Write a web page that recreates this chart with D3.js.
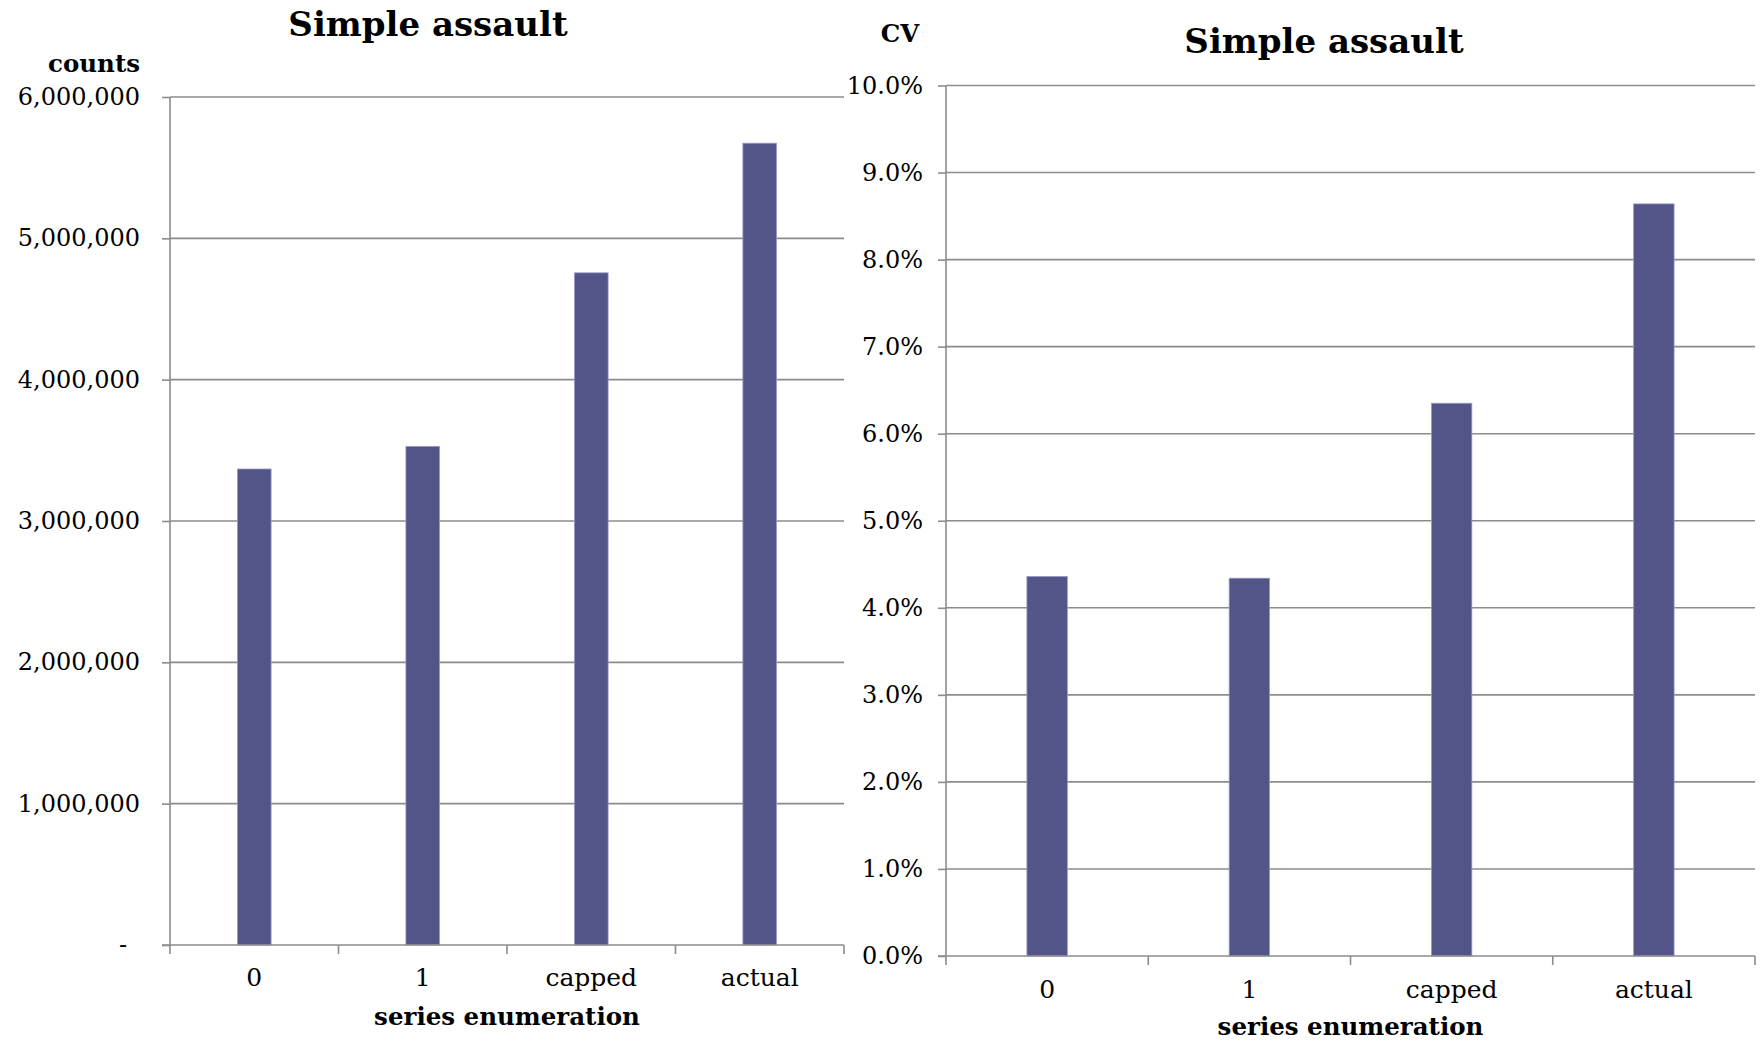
<!DOCTYPE html>
<html>
<head>
<meta charset="utf-8">
<script src="https://cdn.jsdelivr.net/npm/d3@7"></script>
<style>
  html, body { margin: 0; padding: 0; background: #fff; }
  svg { display: block; }
  text { font-family: "DejaVu Serif", "Liberation Serif", serif; fill: #000; }
</style>
</head>
<body>
<svg id="chart" width="1764" height="1040"></svg>
<script>
// Categories shared by both panels
const categories = ["0", "1", "capped", "actual"];

// Estimated simple assault counts per series enumeration
const countValues = [3368000, 3528000, 4756000, 5673000];
const countTicks = [0, 1000000, 2000000, 3000000, 4000000, 5000000, 6000000];

// Coefficient of variation per series enumeration
const cvValues = [0.0436, 0.0434, 0.0635, 0.0864];
const cvTicks = [0, 0.01, 0.02, 0.03, 0.04, 0.05, 0.06, 0.07, 0.08, 0.09, 0.10];

const barColor = "#535488";
const gridColor = "#8c8c8c";

const svg = d3.select("#chart");

function panel(opts) {
  const g = svg.append("g");
  const x = d3.scaleBand().domain(categories).range([opts.x0, opts.x1]).padding(0);
  const y = d3.scaleLinear().domain(opts.domain).range([opts.yBottom, opts.yTop]);

  // horizontal gridlines
  g.append("g").selectAll("line").data(opts.ticks.filter(t => t > 0)).join("line")
    .attr("x1", opts.x0).attr("x2", opts.x1)
    .attr("y1", d => y(d)).attr("y2", d => y(d))
    .attr("stroke", gridColor).attr("stroke-width", 1.6);

  // bars, 20% of each band, centered
  const bw = x.bandwidth() * 0.2;
  g.append("g").selectAll("rect").data(opts.values).join("rect")
    .attr("x", (d, i) => x(categories[i]) + x.bandwidth() / 2 - bw / 2)
    .attr("width", bw)
    .attr("y", d => y(d))
    .attr("height", d => y(0) - y(d))
    .attr("fill", barColor)
    .attr("stroke", "#9a9bc8").attr("stroke-width", 0.8);

  // value axis
  const yAxis = d3.axisLeft(y).tickValues(opts.ticks).tickSize(8).tickPadding(0).tickFormat(() => "");
  const ya = g.append("g").attr("transform", `translate(${opts.x0},0)`).call(yAxis);
  ya.selectAll("path, line").attr("stroke", gridColor).attr("stroke-width", 1.6);
  ya.select(".domain").attr("d", `M0,${opts.yTop}V${opts.yBottom}`);

  g.append("g").selectAll("text").data(opts.ticks).join("text")
    .attr("x", d => opts.labelX - (opts.zeroShift && d === 0 ? opts.zeroShift : 0))
    .attr("y", d => y(d))
    .attr("text-anchor", "end").attr("dominant-baseline", "central")
    .attr("font-size", 24)
    .text(opts.fmt);

  // category axis with ticks at band boundaries
  const edges = categories.map(c => x(c)).concat([opts.x1]);
  const xa = g.append("g");
  xa.append("line").attr("x1", opts.x0 - 8).attr("x2", opts.x1)
    .attr("y1", y(0)).attr("y2", y(0))
    .attr("stroke", gridColor).attr("stroke-width", 1.6);
  xa.selectAll("line.tk").data(edges).join("line").attr("class", "tk")
    .attr("x1", d => d).attr("x2", d => d)
    .attr("y1", y(0)).attr("y2", y(0) + 9)
    .attr("stroke", gridColor).attr("stroke-width", 1.6);
  xa.selectAll("text").data(categories).join("text")
    .attr("x", d => x(d) + x.bandwidth() / 2)
    .attr("y", opts.catY)
    .attr("text-anchor", "middle")
    .attr("font-size", 25)
    .text(d => d);

  // titles
  svg.append("text").attr("x", opts.titleX).attr("y", opts.titleY)
    .attr("text-anchor", "middle").attr("font-size", 34).attr("font-weight", "bold")
    .text("Simple assault");
  svg.append("text").attr("x", opts.unitX).attr("y", opts.unitY)
    .attr("text-anchor", opts.unitAnchor).attr("font-size", 24.5).attr("font-weight", "bold")
    .text(opts.unit);
  svg.append("text").attr("x", (opts.x0 + opts.x1) / 2).attr("y", opts.xTitleY)
    .attr("text-anchor", "middle").attr("font-size", 24.5).attr("font-weight", "bold")
    .text("series enumeration");
}

const commaFmt = d3.format(",");
panel({
  x0: 170, x1: 844, yTop: 97, yBottom: 945,
  domain: [0, 6000000], ticks: countTicks, values: countValues,
  fmt: d => d === 0 ? "-" : commaFmt(d), zeroShift: 13,
  labelX: 140, catY: 986, xTitleY: 1025,
  titleX: 428, titleY: 36, unit: "counts", unitX: 140, unitY: 72, unitAnchor: "end"
});

const pctFmt = d3.format(".1%");
panel({
  x0: 946, x1: 1755, yTop: 85.5, yBottom: 956,
  domain: [0, 0.10], ticks: cvTicks, values: cvValues,
  fmt: d => pctFmt(d),
  labelX: 923, catY: 998, xTitleY: 1035,
  titleX: 1324, titleY: 53, unit: "CV", unitX: 900, unitY: 42, unitAnchor: "middle"
});
</script>
</body>
</html>
